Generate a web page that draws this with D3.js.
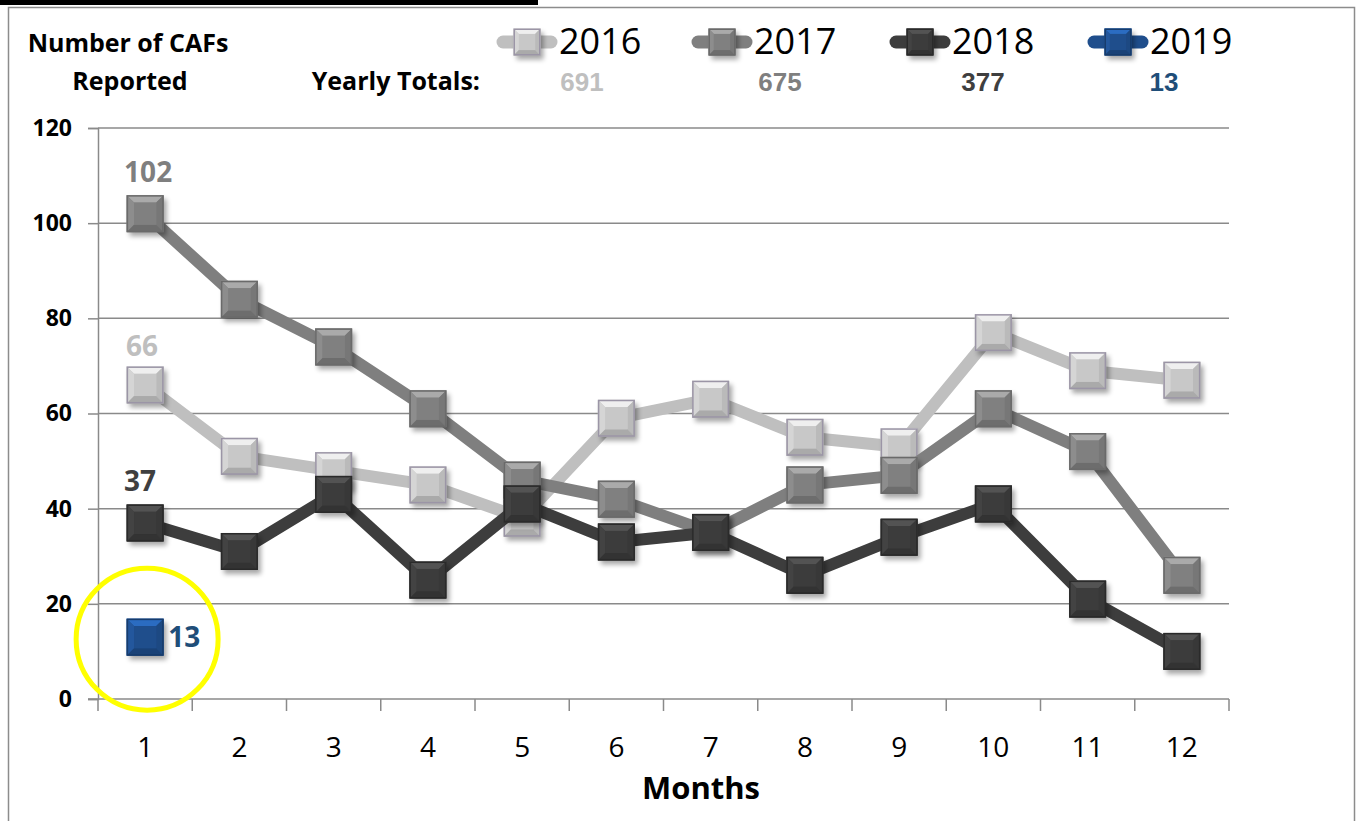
<!DOCTYPE html>
<html><head><meta charset="utf-8">
<script src="https://cdn.jsdelivr.net/npm/d3@7/dist/d3.min.js"></script>
<style>body{margin:0;background:#fff;overflow:hidden}svg{display:block}</style>
</head><body>
<svg id="c" width="1361" height="821"></svg>
<script>
const months = [1,2,3,4,5,6,7,8,9,10,11,12];
const years = ["2016","2017","2018","2019"];
const values2016 = [66,51,48,45,38,59,63,55,53,77,69,67];
const values2017 = [102,84,74,61,46,42,35,45,47,61,52,26];
const values2018 = [37,31,43,25,41,33,35,26,34,41,21,10];
const values2019 = [13];
const yearlyTotals = [691,675,377,13];
const yTicks = [0,20,40,60,80,100,120];
const yTitle = ["Number of CAFs","Reported"];
const xTitle = "Months";
const totalsLabel = "Yearly Totals:";
const firstLabels = [66,102,37,13];

const series = [
  {name:"2016", vals:values2016, line:"#bfbfbf", fill:"#c8c8c8", stroke:"#9b95a6", label:"#bfbfbf", br:0.5},
  {name:"2017", vals:values2017, line:"#7f7f7f", fill:"#808080", stroke:"#6a6a6a", label:"#7f7f7f", br:0.8},
  {name:"2018", vals:values2018, line:"#3d3d3d", fill:"#3c3c3c", stroke:"#2a2a2a", label:"#3f3f3f", br:0.9},
  {name:"2019", vals:values2019, line:"#1f4e8c", fill:"#1f4e8c", stroke:"#173c6c", label:"#1f4e79", br:0.9}
];

const svg = d3.select("#c");
const font = "'Open Sans', 'Liberation Sans', sans-serif";
const defs = svg.append("defs");
defs.append("filter").attr("id","sh").attr("x","-50%").attr("y","-50%").attr("width","200%").attr("height","200%")
  .append("feGaussianBlur").attr("stdDeviation",2.5);

// frame
svg.append("rect").attr("x",8.5).attr("y",7.5).attr("width",1346).attr("height",830).attr("fill","none").attr("stroke","#8c8c8c").attr("stroke-width",1.5);
svg.append("rect").attr("x",0).attr("y",0).attr("width",538).attr("height",5).attr("fill","#000");

const x = d3.scaleBand().domain(months).range([98,1229]).paddingInner(0).paddingOuter(0);
const cx = m => x(m) + x.bandwidth()/2;
const y = d3.scaleLinear().domain([0,120]).range([699,128]);

// gridlines
svg.append("g").selectAll("line").data(yTicks.filter(d=>d>0)).join("line")
  .attr("x1",98).attr("x2",1229).attr("y1",d=>y(d)).attr("y2",d=>y(d))
  .attr("stroke","#8a8a8a").attr("stroke-width",1.5);

// y axis
const ya = svg.append("g").attr("transform","translate(98,0)")
  .call(d3.axisLeft(y).tickValues(yTicks).tickSize(10).tickPadding(16));
ya.select(".domain").attr("stroke","#8a8a8a").attr("stroke-width",1.5);
ya.selectAll(".tick line").attr("stroke","#8a8a8a").attr("stroke-width",1.5);
ya.selectAll("text").attr("font-family",font).attr("font-weight","bold").attr("font-size",23).attr("fill","#000");

// x axis
const xa = svg.append("g").attr("transform","translate(0,699)")
  .call(d3.axisBottom(x).tickSize(0).tickPadding(38));
xa.select(".domain").attr("stroke","#8a8a8a").attr("stroke-width",1.5).attr("d","M88,0H1229");
xa.selectAll("text").attr("font-family",font).attr("font-size",28).attr("fill","#000");
const bounds = months.map(m=>x(m)).concat([x(12)+x.bandwidth()]);
svg.append("g").selectAll("line").data(bounds).join("line")
  .attr("x1",d=>d).attr("x2",d=>d).attr("y1",699).attr("y2",711)
  .attr("stroke","#8a8a8a").attr("stroke-width",1.5);

svg.append("text").attr("x",701).attr("y",799).attr("text-anchor","middle")
  .attr("font-family",font).attr("font-weight","bold").attr("font-size",31).text(xTitle);

// titles
svg.append("text").attr("x",128).attr("y",52).attr("text-anchor","middle")
  .attr("font-family",font).attr("font-weight","bold").attr("font-size",25).text(yTitle[0]);
svg.append("text").attr("x",130).attr("y",90).attr("text-anchor","middle")
  .attr("font-family",font).attr("font-weight","bold").attr("font-size",25).text(yTitle[1]);
svg.append("text").attr("x",480).attr("y",90).attr("text-anchor","end")
  .attr("font-family",font).attr("font-weight","bold").attr("font-size",25).text(totalsLabel);

function marker(g, px, py, s, s0) {
  const h = s/2, b = s*0.2;
  const c = d3.color(s0.fill);
  g.append("rect").attr("x",px-h+3).attr("y",py-h+4).attr("width",s).attr("height",s)
    .attr("fill","#000").attr("opacity",0.35).attr("filter","url(#sh)");
  g.append("rect").attr("x",px-h).attr("y",py-h).attr("width",s).attr("height",s).attr("fill",s0.fill);
  const L=px-h, R=px+h, T=py-h, B=py+h;
  const faces = [
    {p:[[L,T],[R,T],[R-b,T+b],[L+b,T+b]], c:c.brighter(s0.br)},
    {p:[[L,T],[L+b,T+b],[L+b,B-b],[L,B]], c:c.brighter(s0.br*0.35)},
    {p:[[R,T],[R,B],[R-b,B-b],[R-b,T+b]], c:c.darker(0.2)},
    {p:[[L,B],[L+b,B-b],[R-b,B-b],[R,B]], c:c.darker(0.45)}
  ];
  faces.forEach(f=>g.append("polygon").attr("points",f.p.map(q=>q.join(",")).join(" ")).attr("fill",f.c));
  g.append("rect").attr("x",L+b).attr("y",T+b).attr("width",s-2*b).attr("height",s-2*b).attr("fill",s0.fill);
  g.append("rect").attr("x",L+0.75).attr("y",T+0.75).attr("width",s-1.5).attr("height",s-1.5)
    .attr("fill","none").attr("stroke",s0.stroke).attr("stroke-width",1.5);
}

// series
const line = d3.line().x((d,i)=>cx(months[i])).y(d=>y(d));
series.forEach(s=>{
  const g = svg.append("g");
  if (s.vals.length>1) g.append("path").datum(s.vals).attr("d",line).attr("fill","none")
    .attr("stroke",s.line).attr("stroke-width",12).attr("stroke-linejoin","round");
  s.vals.forEach((v,i)=>marker(g, cx(months[i]), y(v), 37, s));
});

// data labels
const lab = svg.append("g").attr("font-family",font).attr("font-weight","bold").attr("font-size",28);
lab.append("text").attr("x",cx(1)+3).attr("y",y(values2017[0])-32).attr("text-anchor","middle").attr("fill",series[1].label).text(firstLabels[1]);
lab.append("text").attr("x",cx(1)-3).attr("y",y(values2016[0])-29).attr("text-anchor","middle").attr("fill",series[0].label).text(firstLabels[0]);
lab.append("text").attr("x",cx(1)-5).attr("y",y(values2018[0])-32).attr("text-anchor","middle").attr("fill",series[2].label).text(firstLabels[2]);
lab.append("text").attr("x",cx(1)+23).attr("y",y(values2019[0])+10).attr("text-anchor","start").attr("fill",series[3].label).text(firstLabels[3]);

// yellow circle
svg.append("circle").attr("cx",cx(1)+2).attr("cy",y(values2019[0])+2).attr("r",71)
  .attr("fill","none").attr("stroke","#ffff00").attr("stroke-width",5);

// legend
const legX = [497,692,890,1088];
series.forEach((s,i)=>{
  const g = svg.append("g");
  g.append("line").attr("x1",legX[i]+6).attr("x2",legX[i]+54).attr("y1",42).attr("y2",42)
    .attr("stroke",s.line).attr("stroke-width",13).attr("stroke-linecap","round");
  marker(g, legX[i]+30, 42, 27, s);
  g.append("text").attr("x",legX[i]+62).attr("y",54).attr("font-family","'Liberation Sans Narrow', 'Open Sans', sans-serif")
    .attr("font-size",36).attr("fill","#000").text(s.name);
  g.append("text").attr("x",[582,780,983,1164][i]).attr("y",91).attr("text-anchor","middle")
    .attr("font-family","'Liberation Sans Narrow', 'Liberation Sans', sans-serif").attr("font-weight","bold")
    .attr("font-size",26).attr("fill",s.label).text(yearlyTotals[i]);
});
</script>
</body></html>
